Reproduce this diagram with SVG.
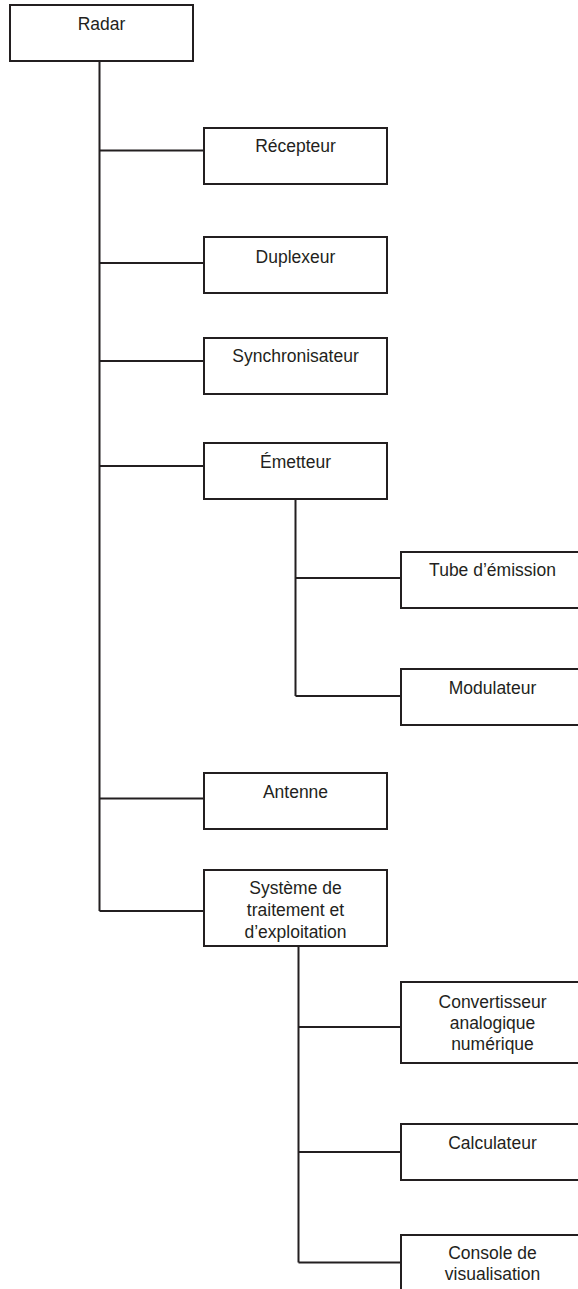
<svg xmlns="http://www.w3.org/2000/svg" width="578" height="1289" viewBox="0 0 578 1289">
<style>
.box{fill:#fff;stroke:#231f20;stroke-width:2}
.ln{fill:none;stroke:#231f20;stroke-width:2}
text{font-family:"Liberation Sans",Arial,sans-serif;font-size:17.5px;fill:#231f20;text-anchor:middle}
</style>
<rect width="578" height="1289" fill="#fff"/>
<g id="connectors" class="ln">
<path d="M99.5 61V911"/>
<path d="M99.5 150.5H204M99.5 263H204M99.5 361H204M99.5 466H204M99.5 798.5H204M99.5 911H204"/>
<path d="M295.5 499V696M295.5 578H401M295.5 696H401"/>
<path d="M298.5 946V1262.5M298.5 1027H401M298.5 1152H401M298.5 1262.5H401"/>
</g>
<g id="radar"><rect class="box" x="10" y="5" width="183" height="56"/><text x="101.5" y="30">Radar</text></g>
<g id="recepteur"><rect class="box" x="204" y="128" width="183" height="56"/><text x="295.5" y="152">Récepteur</text></g>
<g id="duplexeur"><rect class="box" x="204" y="237" width="183" height="56"/><text x="295.5" y="262.5">Duplexeur</text></g>
<g id="synchronisateur"><rect class="box" x="204" y="338" width="183" height="56"/><text x="295.5" y="362">Synchronisateur</text></g>
<g id="emetteur"><rect class="box" x="204" y="443" width="183" height="56"/><text x="295.5" y="468">Émetteur</text></g>
<g id="tube"><rect class="box" x="401" y="552" width="183" height="56"/><text x="492.5" y="576">Tube d’émission</text></g>
<g id="modulateur"><rect class="box" x="401" y="669" width="183" height="56"/><text x="492.5" y="694">Modulateur</text></g>
<g id="antenne"><rect class="box" x="204" y="773" width="183" height="56"/><text x="295.5" y="798">Antenne</text></g>
<g id="systeme"><rect class="box" x="204" y="870" width="183" height="76"/><text x="295.5" y="893.5">Système de</text><text x="295.5" y="915.5">traitement et</text><text x="295.5" y="937.5">d’exploitation</text></g>
<g id="convertisseur"><rect class="box" x="401" y="982" width="183" height="81"/><text x="492.5" y="1007.5">Convertisseur</text><text x="492.5" y="1028.5">analogique</text><text x="492.5" y="1049.5">numérique</text></g>
<g id="calculateur"><rect class="box" x="401" y="1124" width="183" height="56"/><text x="492.5" y="1149">Calculateur</text></g>
<g id="console"><rect class="box" x="401" y="1235" width="183" height="70"/><text x="492.5" y="1258.5">Console de</text><text x="492.5" y="1280">visualisation</text></g>
</svg>
